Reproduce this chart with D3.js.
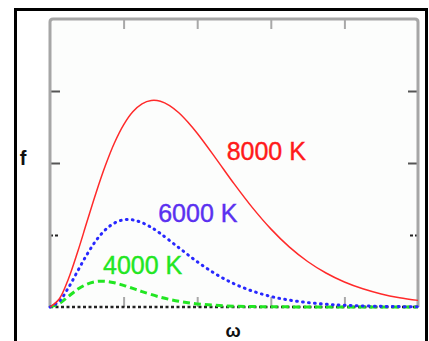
<!DOCTYPE html>
<html>
<head>
<meta charset="utf-8">
<script src="https://cdn.jsdelivr.net/npm/d3@7"></script>
<style>
  html, body { margin: 0; padding: 0; background: #fff; }
  svg { display: block; }
  .lbl { font-family: "Liberation Sans", Arial, sans-serif; font-size: 25px; stroke-width: 0.4px; }
  .axt { font-family: "Liberation Sans", Arial, sans-serif; font-weight: bold; fill: #111; }
</style>
</head>
<body>
<svg id="chart" width="429" height="341"></svg>
<script>
// omega positions (axis units, 0..5)
var omegaRed = [0, 0.125, 0.25, 0.375, 0.5, 0.625, 0.75, 0.875, 1.0, 1.125, 1.25, 1.375, 1.5, 1.625, 1.75, 1.875, 2.0, 2.25, 2.5, 2.75, 3.0, 3.25, 3.5, 3.75, 4.0, 4.25, 4.5, 4.75, 5.0];
var f8000 = [0, 0.111, 0.389, 0.763, 1.176, 1.584, 1.957, 2.277, 2.529, 2.711, 2.822, 2.868, 2.858, 2.798, 2.697, 2.565, 2.412, 2.068, 1.713, 1.380, 1.085, 0.835, 0.632, 0.472, 0.347, 0.253, 0.182, 0.130, 0.092];

var omegaBlue = [0, 0.125, 0.25, 0.375, 0.5, 0.625, 0.75, 0.875, 1.0, 1.125, 1.25, 1.375, 1.5, 1.75, 2.0, 2.25, 2.5, 2.75, 3.0, 3.25, 3.5, 3.75, 4.0, 4.5, 5.0];
var f6000 = [0, 0.080, 0.267, 0.498, 0.725, 0.922, 1.070, 1.166, 1.211, 1.210, 1.171, 1.106, 1.021, 0.824, 0.629, 0.459, 0.323, 0.221, 0.147, 0.096, 0.062, 0.039, 0.024, 0.009, 0.003];

var omegaGreen = [0, 0.125, 0.25, 0.375, 0.5, 0.625, 0.75, 0.875, 1.0, 1.125, 1.25, 1.5, 1.75, 2.0, 2.25, 2.5, 2.75, 3.0, 3.5, 4.0, 5.0];
var f4000 = [0, 0.049, 0.147, 0.245, 0.316, 0.353, 0.357, 0.337, 0.301, 0.258, 0.214, 0.136, 0.079, 0.043, 0.023, 0.011, 0.006, 0.003, 0.001, 0.0, 0.0];

var xTicks = [1, 2, 3, 4];
var yTicksGrey = [2, 3];
var yTicksDark = [1];

var labels = ["8000 K", "6000 K", "4000 K"];
var labelOmega = [2.4, 1.47, 0.72];
var labelF = [2.04, 1.18, 0.46];

var svg = d3.select("#chart");

// outer frame
svg.append("rect")
    .attr("x", 15.5).attr("y", 9.5)
    .attr("width", 411).attr("height", 340)
    .attr("fill", "#fff")
    .attr("stroke", "#000")
    .attr("stroke-width", 3);

var xScale = d3.scaleLinear().domain([0, 5]).range([50, 418]);
var yScale = d3.scaleLinear().domain([0, 4]).range([307, 19]);

var x0 = xScale(0), x1 = xScale(5), y0 = yScale(0), y1 = yScale(4);

svg.append("rect")
    .attr("x", x0).attr("y", y1)
    .attr("width", x1 - x0).attr("height", y0 - y1)
    .attr("fill", "#fcfdfc");

// ticks
var tickStyle = function (g, color, dash) {
    g.select(".domain").remove();
    g.selectAll(".tick line").attr("stroke", color).attr("stroke-width", 2)
        .attr("stroke-dasharray", dash);
};

svg.append("g")
    .attr("transform", "translate(0," + y0 + ")")
    .call(d3.axisBottom(xScale).tickValues(xTicks).tickSize(-10).tickFormat(""))
    .call(tickStyle, "#a8a8a8", null);

svg.append("g")
    .attr("transform", "translate(0," + y1 + ")")
    .call(d3.axisTop(xScale).tickValues(xTicks).tickSize(-10).tickFormat(""))
    .call(tickStyle, "#a8a8a8", null);

svg.append("g")
    .attr("transform", "translate(" + x0 + ",0)")
    .call(d3.axisLeft(yScale).tickValues(yTicksGrey).tickSize(-10).tickFormat(""))
    .call(tickStyle, "#555", null);

svg.append("g")
    .attr("transform", "translate(" + x1 + ",0)")
    .call(d3.axisRight(yScale).tickValues(yTicksGrey).tickSize(-10).tickFormat(""))
    .call(tickStyle, "#555", null);

svg.append("g")
    .attr("transform", "translate(" + x0 + ",0)")
    .call(d3.axisLeft(yScale).tickValues(yTicksDark).tickSize(-10).tickFormat(""))
    .call(tickStyle, "#222", "3,2");

svg.append("g")
    .attr("transform", "translate(" + x1 + ",0)")
    .call(d3.axisRight(yScale).tickValues(yTicksDark).tickSize(-10).tickFormat(""))
    .call(tickStyle, "#222", "3,2");

// grey frame (left, top, right)
svg.append("path")
    .attr("d", "M" + x0 + "," + y0 + "V" + (y1 + 3) + "Q" + x0 + "," + y1 + " " + (x0 + 3) + "," + y1 +
        "H" + (x1 - 3) + "Q" + x1 + "," + y1 + " " + x1 + "," + (y1 + 3) + "V" + y0)
    .attr("fill", "none")
    .attr("stroke", "#a6a6a6")
    .attr("stroke-width", 3);

// zero line
svg.append("line")
    .attr("x1", x0).attr("x2", x1)
    .attr("y1", y0).attr("y2", y0)
    .attr("stroke", "#222")
    .attr("stroke-width", 2.5)
    .attr("stroke-dasharray", "3,2.5");

var line = d3.line()
    .x(function (d) { return xScale(d[0]); })
    .y(function (d) { return yScale(d[1]); })
    .curve(d3.curveCatmullRom.alpha(0.5));

function pairs(xs, ys) {
    return xs.map(function (v, i) { return [v, ys[i]]; });
}

svg.append("path")
    .datum(pairs(omegaGreen, f4000))
    .attr("d", line)
    .attr("fill", "none")
    .attr("stroke", "#22e622")
    .attr("stroke-width", 3)
    .attr("stroke-dasharray", "7,4");

svg.append("path")
    .datum(pairs(omegaBlue, f6000))
    .attr("d", line)
    .attr("fill", "none")
    .attr("stroke", "#2828ff")
    .attr("stroke-width", 3)
    .attr("stroke-linecap", "round")
    .attr("stroke-dasharray", "0.8,5.2");

svg.append("path")
    .datum(pairs(omegaRed, f8000))
    .attr("d", line)
    .attr("fill", "none")
    .attr("stroke", "#ff2a2a")
    .attr("stroke-width", 1.5);

var labelColors = ["#ff1a1a", "#5a30f0", "#22e622"];
svg.selectAll("text.lbl")
    .data(labels)
    .enter().append("text")
    .attr("class", "lbl")
    .attr("x", function (d, i) { return xScale(labelOmega[i]); })
    .attr("y", function (d, i) { return yScale(labelF[i]); })
    .attr("fill", function (d, i) { return labelColors[i]; })
    .attr("stroke", function (d, i) { return labelColors[i]; })
    .text(function (d) { return d; });

svg.append("text")
    .attr("class", "axt")
    .attr("x", 23).attr("y", 165)
    .attr("text-anchor", "middle")
    .style("font-size", "20px")
    .text("f");

svg.append("text")
    .attr("class", "axt")
    .attr("x", 233).attr("y", 337)
    .attr("text-anchor", "middle")
    .style("font-size", "18px")
    .text("ω");
</script>
</body>
</html>
